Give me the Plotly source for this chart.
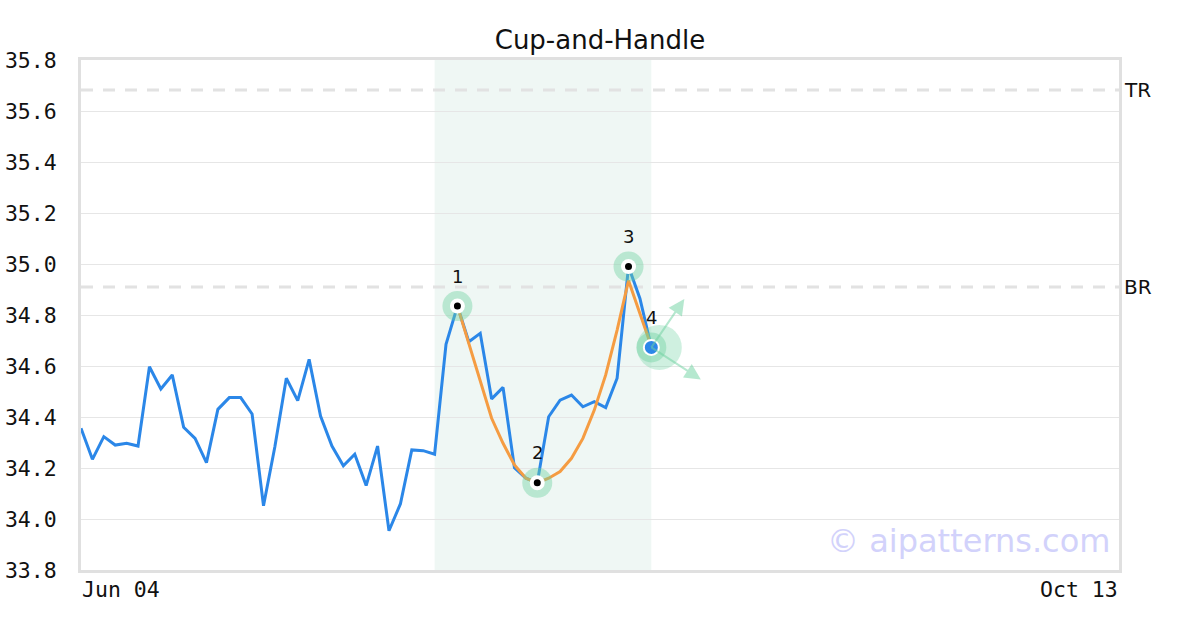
import plotly.graph_objects as go

# ---- data ----
price = [34.356, 34.234, 34.323, 34.290, 34.297, 34.286, 34.597, 34.510, 34.565, 34.360,
         34.316, 34.221, 34.430, 34.476, 34.476, 34.412, 34.052, 34.284, 34.552, 34.464,
         34.626, 34.404, 34.286, 34.209, 34.254, 34.131, 34.286, 33.954, 34.059, 34.271,
         34.268, 34.254, 34.685, 34.835, 34.695, 34.728, 34.471, 34.516, 34.201, 34.160,
         34.142, 34.401, 34.466, 34.486, 34.440, 34.460, 34.437, 34.552, 34.990, 34.865,
         34.673]
fit_start = 33
fit_curve = [34.835, 34.689, 34.535, 34.395, 34.297, 34.212, 34.160, 34.142, 34.160,
             34.186, 34.238, 34.316, 34.427, 34.565, 34.741, 34.935, 34.806, 34.676]
pivot_idx = [33, 40, 48, 50]
pivot_labels = ["1", "2", "3", "4"]
zone = [31, 50]
levels = {"TR": 35.682, "BR": 34.910}
n_axis = 92
date_labels = ["Jun 04", "Oct 13"]
y_ticks = [33.8, 34.0, 34.2, 34.4, 34.6, 34.8, 35.0, 35.2, 35.4, 35.6, 35.8]

x = list(range(len(price)))
fit_x = list(range(fit_start, fit_start + len(fit_curve)))
px_ = [x[i] for i in pivot_idx]
py_ = [price[i] for i in pivot_idx]

BLUE = "#2b87e8"
ORANGE = "#f59c42"
GLOW = "rgba(110,210,160,0.42)"
MONO = "DejaVu Sans Mono"
SANS = "DejaVu Sans"

fig = go.Figure()

fig.add_vrect(x0=zone[0], x1=zone[1], fillcolor="#eff7f4", line_width=0, layer="below")
for name, v in levels.items():
    fig.add_hline(y=v, line=dict(color="#e2e2e2", width=3, dash="12px,10px"), layer="below")
    fig.add_annotation(x=1, xref="paper", y=v, yref="y", text=name, showarrow=False,
                       xanchor="left", xshift=3, font=dict(family=SANS, size=20, color="#111"))

fig.add_trace(go.Scatter(x=x, y=price, mode="lines", line=dict(color=BLUE, width=3),
                         hoverinfo="skip"))
fig.add_trace(go.Scatter(x=fit_x, y=fit_curve, mode="lines", line=dict(color=ORANGE, width=3),
                         hoverinfo="skip"))

# big projection circle at last pivot
fig.add_trace(go.Scatter(x=[px_[-1] + 0.7], y=[py_[-1]], mode="markers",
                         marker=dict(size=45, color="rgba(110,210,160,0.33)", line_width=0),
                         hoverinfo="skip"))
# glows
fig.add_trace(go.Scatter(x=px_, y=py_, mode="markers",
                         marker=dict(size=30, color=GLOW, line_width=0), hoverinfo="skip"))
# white rings + black dots for first three
fig.add_trace(go.Scatter(x=px_[:-1], y=py_[:-1], mode="markers",
                         marker=dict(size=15, color="white", line_width=0), hoverinfo="skip"))
fig.add_trace(go.Scatter(x=px_[:-1], y=py_[:-1], mode="markers",
                         marker=dict(size=7, color="black", line_width=0), hoverinfo="skip"))
# last pivot blue dot
fig.add_trace(go.Scatter(x=px_[-1:], y=py_[-1:], mode="markers",
                         marker=dict(size=15, color=BLUE, line=dict(color="white", width=2)),
                         hoverinfo="skip"))

for lab, xi, yi in zip(pivot_labels, px_, py_):
    fig.add_annotation(x=xi, y=yi, text=lab, showarrow=False, yshift=30,
                       font=dict(family=SANS, size=18, color="#111"))

# projection arrows from last pivot
for ax, ay in [(34, -50), (51, 33)]:
    fig.add_annotation(x=px_[-1], y=py_[-1], text="", showarrow=True, arrowside="start",
                       ax=ax, ay=ay, startarrowhead=2, startarrowsize=1.6, arrowwidth=2,
                       arrowcolor="rgba(110,210,160,0.5)")

# date labels
fig.add_annotation(x=0, y=0, xref="x", yref="paper", text=date_labels[0], showarrow=False,
                   xanchor="left", yanchor="top", yshift=-5, xshift=-1,
                   font=dict(family=MONO, size=21.5, color="#111"))
fig.add_annotation(x=n_axis - 1, y=0, xref="x", yref="paper", text=date_labels[1],
                   showarrow=False, xanchor="right", yanchor="top", yshift=-5, xshift=1,
                   font=dict(family=MONO, size=21.5, color="#111"))

# watermark
fig.add_annotation(x=1, y=0, xref="paper", yref="paper", text="© aipatterns.com",
                   showarrow=False, xanchor="right", yanchor="bottom", xshift=-7, yshift=8,
                   font=dict(family=SANS, size=32, color="#d2d2fb"))

fig.update_layout(
    width=1200, height=630,
    margin=dict(l=81, r=81, t=60, b=60, autoexpand=False),
    paper_bgcolor="white", plot_bgcolor="white",
    showlegend=False,
    title=dict(text="Cup-and-Handle", x=0.5, xanchor="center", y=0.937, yanchor="middle",
               font=dict(family=SANS, size=26, color="#111")),
    xaxis=dict(range=[0, n_axis - 1], showgrid=False, showticklabels=False, zeroline=False,
               showline=True, linecolor="#e0e0e0", linewidth=3, mirror=True, ticks="",
               automargin=False),
    yaxis=dict(range=[y_ticks[0], y_ticks[-1]], tickvals=y_ticks,
               ticktext=[f"{v:.1f}" for v in y_ticks], automargin=False,
               showgrid=True, gridcolor="#e6e6e6", gridwidth=1, zeroline=False,
               showline=True, linecolor="#e0e0e0", linewidth=3, mirror=True, ticks="",
               ticklabelstandoff=17, tickfont=dict(family=MONO, size=21.5, color="#111")),
)

fig.write_html("out.html", config={"displayModeBar": False},
               post_script="document.body.style.margin='0';")
